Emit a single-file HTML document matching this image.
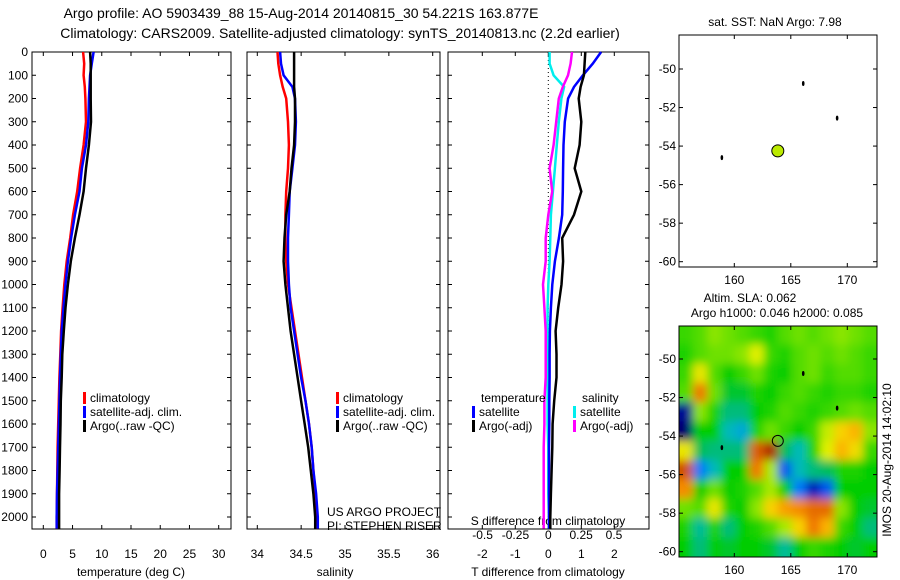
<!DOCTYPE html>
<html><head><meta charset="utf-8">
<style>
body{margin:0;background:#fff;}
svg{display:block;font-family:"Liberation Sans",sans-serif;}
text{fill:#000;}
</style></head>
<body>
<svg id="fig" width="900" height="580" viewBox="0 0 900 580">
<defs>
<clipPath id="mapclip"><rect x="679" y="326" width="198" height="231"/></clipPath>
<filter id="blur" x="-10%" y="-10%" width="120%" height="120%"><feGaussianBlur stdDeviation="4.5"/></filter>
</defs>
<text x="301" y="18" font-size="14" text-anchor="middle">Argo profile: AO 5903439_88 15-Aug-2014 20140815_30 54.221S 163.877E</text>
<text x="340" y="38" font-size="14" text-anchor="middle">Climatology: CARS2009. Satellite-adjusted climatology: synTS_20140813.nc (2.2d earlier)</text>
<g id="panels"></g>
<g id="heat" clip-path="url(#mapclip)"><g id="heatcells" filter="url(#blur)"></g></g>
<g id="maps"></g>
</svg>
<script>
// ---- profile data ----
const depths = [0,50,100,150,200,300,400,500,600,700,800,900,1000,1100,1200,1300,1400,1500,1600,1700,1800,1900,2000,2050];
const tempClim = [6.8,7.0,6.9,7.1,7.2,7.3,6.9,6.3,5.8,5.1,4.6,4.0,3.6,3.3,3.05,2.9,2.75,2.65,2.55,2.45,2.4,2.35,2.3,2.3];
const tempSat = [8.6,8.3,8.0,7.9,7.8,7.7,7.3,6.6,6.2,5.4,4.75,4.2,3.8,3.45,3.15,3.0,2.85,2.75,2.65,2.55,2.45,2.35,2.3,2.3];
const tempArgo = [8.0,8.1,8.1,8.1,8.1,8.15,7.8,7.3,6.9,6.2,5.4,4.7,4.2,3.8,3.5,3.25,3.15,3.0,2.95,2.86,2.78,2.7,2.7,2.7];
const salClim = [34.23,34.24,34.26,34.29,34.33,34.35,34.36,34.35,34.33,34.32,34.32,34.33,34.35,34.39,34.43,34.47,34.51,34.55,34.59,34.62,34.64,34.66,34.68,34.69];
const salSat = [34.26,34.27,34.30,34.40,34.43,34.44,34.43,34.40,34.37,34.36,34.35,34.35,34.36,34.38,34.42,34.46,34.50,34.55,34.59,34.62,34.64,34.67,34.69,34.69];
const salArgo = [34.42,34.42,34.42,34.42,34.43,34.43,34.42,34.39,34.37,34.33,34.31,34.30,34.32,34.35,34.38,34.42,34.46,34.50,34.54,34.58,34.61,34.64,34.66,34.66];
const dTSat = [1.6,1.35,1.05,0.78,0.6,0.5,0.46,0.45,0.44,0.42,0.32,0.2,0.12,0.08,0.05,0.04,0.04,0.03,0.03,0.02,0.02,0.02,0.02,0.02];
const dTArgo = [1.12,1.1,1.08,0.98,0.92,1.0,0.95,0.8,1.0,0.78,0.42,0.45,0.4,0.3,0.22,0.25,0.25,0.18,0.13,0.12,0.1,0.08,0.06,0.06];
const dSSat = [0.01,0.01,0.04,0.12,0.10,0.08,0.065,0.05,0.035,0.02,0.015,0.01,0.0,-0.005,-0.005,-0.005,-0.005,-0.005,-0.005,0.0,0.0,0.0,0.005,0.005];
const dSArgo = [0.18,0.17,0.15,0.11,0.08,0.06,0.04,0.01,0.03,0.0,-0.02,-0.02,-0.04,-0.03,-0.02,-0.02,-0.02,-0.03,-0.03,-0.035,-0.035,-0.035,-0.035,-0.035];
const depthTicks = [0,100,200,300,400,500,600,700,800,900,1000,1100,1200,1300,1400,1500,1600,1700,1800,1900,2000];
const tempTicks = [0,5,10,15,20,25,30];
const salTicks = [34,34.5,35,35.5,36];
const dTTicks = [-2,-1,0,1,2];
const dSTicks = [-0.5,-0.25,0,0.25,0.5];
const dSTickLabels = ["-0.5","-0.25","0","0.25","0.5"];
// ---- map data ----
const floatLon = 163.85, floatLat = -54.25;
const islandLon = [166.1,169.1,158.9];
const islandLat = [-50.75,-52.55,-54.6];
const latTicks = [-50,-52,-54,-56,-58,-60];
const lonTicks = [160,165,170];
const slaLon0 = 155.1, slaDLon = 1.25, slaLat0 = -48.25, slaDLat = 1;
const slaGrid = [
[0.2,0.3,0.5,0.4,0.3,0.2,0.1,0.3,0.4,0.3,0.4,0.5,0.4,0.3],
[0.1,0.3,0.4,0.4,0.5,0.8,0.2,0.1,0.3,0.4,0.3,0.4,0.3,0.2],
[0.2,0.9,0.3,0.0,0.2,0.4,0.1,0.0,0.3,0.4,0.2,0.3,0.3,0.2],
[0.3,1.6,0.4,-0.1,-0.1,0.1,0.0,0.2,0.3,0.2,0.1,0.2,0.2,0.1],
[-2.0,0.5,0.1,-0.3,-0.3,0.0,0.1,0.3,0.2,0.1,0.2,0.3,0.4,0.3],
[-2.3,0.0,0.0,-0.5,-0.7,0.1,0.4,0.2,0.0,0.2,0.7,1.1,1.3,0.5],
[0.9,-0.2,-0.3,-0.3,-0.3,1.8,2.2,-0.2,-0.5,0.1,0.8,1.3,1.0,0.2],
[1.9,-1.1,-0.5,0.0,0.0,1.6,0.6,-1.3,-0.5,-0.3,-0.2,0.1,0.1,0.0],
[1.5,0.0,0.4,0.0,0.1,0.3,0.6,0.0,-1.1,-1.8,-1.3,0.0,0.0,0.0],
[0.4,0.3,0.9,0.1,0.0,0.5,1.1,1.4,1.5,1.7,1.7,0.5,0.0,-0.1],
[0.1,-0.4,0.1,-0.3,0.0,0.1,0.3,0.6,1.1,1.6,1.3,0.2,0.0,-0.3],
[0.0,-0.3,0.0,-0.1,0.0,0.0,-0.1,-0.4,0.0,0.2,0.1,0.0,-0.1,0.0]];

const NS='http://www.w3.org/2000/svg';
function mk(parent,tag,attrs,txt){const e=document.createElementNS(NS,tag);for(const k in attrs)e.setAttribute(k,attrs[k]);if(txt!==undefined)e.textContent=txt;parent.appendChild(e);return e;}
const panels=document.getElementById('panels');
const Y0=52,Y1=529;
const yD=d=>Y0+d*0.2325;
function lin(d0,d1,r0,r1){return v=>r0+(v-d0)*(r1-r0)/(d1-d0);}

function frame(x0,x1,name){
  const r=mk(panels,'rect',{x:x0,y:Y0,width:x1-x0,height:Y1-Y0,fill:'none',stroke:'#000','stroke-width':1});
  
  
  depthTicks.forEach(d=>{mk(panels,'line',{x1:x0,x2:x0+4,y1:yD(d),y2:yD(d),stroke:'#000'});mk(panels,'line',{x1:x1,x2:x1-4,y1:yD(d),y2:yD(d),stroke:'#000'});});
}
function xticks(sx,ticks,labels,x0,x1,y,name){
  ticks.forEach((t,i)=>{const x=sx(t);
    mk(panels,'line',{x1:x,x2:x,y1:Y1,y2:Y1-4,stroke:'#000'});mk(panels,'line',{x1:x,x2:x,y1:Y0,y2:Y0+4,stroke:'#000'});
    const tx=mk(panels,'text',{x:x,y:y,'font-size':12,'text-anchor':'middle'},labels?labels[i]:String(t));
    
    
  });
}
function series(sx,vals,color,name){
  let p='';vals.forEach((v,i)=>{p+=(i?'L':'M')+sx(v).toFixed(1)+','+yD(depths[i]).toFixed(1);});
  const e=mk(panels,'path',{d:p,fill:'none',stroke:color,'stroke-width':2.5,'stroke-linejoin':'miter'});
  
  
}
function legendEntry(x,y,color,label,name){
  const g=mk(panels,'g',{});
  
  
  mk(g,'rect',{x:x,y:y-10,width:3,height:12,fill:color});
  mk(g,'text',{x:x+7,y:y,'font-size':12},label);
}
function ylabel(t,name){const e=mk(panels,'text',{x:t.x,y:t.y,'font-size':12,'text-anchor':t.a||'middle'},t.s);}

// panel 1 temperature
const sT=lin(0,30,43.3,218.7);
frame(32,231,'temperature-axes');
depthTicks.forEach(d=>{const e=mk(panels,'text',{x:28,y:yD(d)+4,'font-size':12,'text-anchor':'end'},String(d));});
xticks(sT,tempTicks,null,32,231,558,'temperature');
series(sT,tempClim,'#f00','temp-climatology-line');
series(sT,tempSat,'#00f','temp-satellite-line');
series(sT,tempArgo,'#000','temp-argo-line');
legendEntry(83,402,'#f00','climatology','legend-climatology');
legendEntry(83,416,'#00f','satellite-adj. clim.','legend-satellite');
legendEntry(83,430,'#000','Argo(..raw -QC)','legend-argo');
ylabel({x:131,y:576,s:'temperature (deg C)'},'x-axis-title-temperature');

// panel 2 salinity
const sS=lin(34,36,257.3,432.7);
frame(247,440,'salinity-axes');
xticks(sS,salTicks,null,247,440,558,'salinity');
series(sS,salClim,'#f00','sal-climatology-line');
series(sS,salSat,'#00f','sal-satellite-line');
series(sS,salArgo,'#000','sal-argo-line');
legendEntry(336,402,'#f00','climatology','legend-climatology-2');
legendEntry(336,416,'#00f','satellite-adj. clim.','legend-satellite-2');
legendEntry(336,430,'#000','Argo(..raw -QC)','legend-argo-2');
ylabel({x:327,y:516,s:'US ARGO PROJECT',a:'start'},'project-label');
ylabel({x:327,y:530,s:'PI: STEPHEN RISER',a:'start'},'pi-label');
ylabel({x:335,y:576,s:'salinity'},'x-axis-title-salinity');

// panel 3 differences
const sdT=lin(0,2,548.3,614.3);
const sdS=lin(0,0.5,548.3,614);
frame(448,649,'difference-axes');
mk(panels,'line',{x1:sdT(0),x2:sdT(0),y1:Y0,y2:Y1,stroke:'#000','stroke-dasharray':'1,3'});
xticks(sdT,dTTicks,null,448,649,558,'t-difference');
dSTicks.forEach((t,i)=>{const e=mk(panels,'text',{x:sdS(t),y:539,'font-size':12,'text-anchor':'middle'},dSTickLabels[i]);});
ylabel({x:548,y:525,s:'S difference from climatology'},'s-difference-title');
series(sdS,dSSat,'#0ee','s-diff-satellite-line');
series(sdS,dSArgo,'#f0f','s-diff-argo-line');
series(sdT,dTSat,'#00f','t-diff-satellite-line');
series(sdT,dTArgo,'#000','t-diff-argo-line');
ylabel({x:481,y:402,s:'temperature',a:'start'},'legend-title-temperature');
ylabel({x:582,y:402,s:'salinity',a:'start'},'legend-title-salinity');
legendEntry(472,416,'#00f','satellite','legend-t-satellite');
legendEntry(472,430,'#000','Argo(-adj)','legend-t-argo');
legendEntry(573,416,'#0ee','satellite','legend-s-satellite');
legendEntry(573,430,'#f0f','Argo(-adj)','legend-s-argo');
ylabel({x:548,y:576,s:'T difference from climatology'},'x-axis-title-t-difference');

// maps
const maps=document.getElementById('maps');
const sLon=lin(160,170,734.3,847.3);
function drawMap(top,bottom,latA,name,withFill){
  const sLat=lin(-50,-60,latA,latA+192.7);
  const r=mk(maps,'rect',{x:679,y:top,width:198,height:bottom-top,fill:'none',stroke:'#000'});
  
  
  latTicks.forEach(t=>{const y=sLat(t);mk(maps,'line',{x1:679,x2:683,y1:y,y2:y,stroke:'#000'});mk(maps,'line',{x1:877,x2:873,y1:y,y2:y,stroke:'#000'});
    const e=mk(maps,'text',{x:676,y:y+4,'font-size':12,'text-anchor':'end'},String(t));});
  lonTicks.forEach(t=>{const x=sLon(t);mk(maps,'line',{x1:x,x2:x,y1:bottom,y2:bottom-4,stroke:'#000'});mk(maps,'line',{x1:x,x2:x,y1:top,y2:top+4,stroke:'#000'});
    const e=mk(maps,'text',{x:x,y:bottom+17,'font-size':12,'text-anchor':'middle'},String(t));});
  islandLon.forEach((lo,i)=>{const e=mk(maps,'ellipse',{cx:sLon(lo),cy:sLat(islandLat[i]),rx:1.3,ry:2.5,fill:'#000'});});
  const c=mk(maps,'circle',{cx:sLon(floatLon),cy:sLat(floatLat),r:withFill?6:5.5,fill:withFill?'#bbea00':'none',stroke:'#000','stroke-width':1});
  
  
  return sLat;
}
drawMap(35,267,69,'sst-map',true);
const sLat2=lin(-50,-60,359,551.7);
// heatmap
const heat=document.getElementById('heatcells');
function slaColor(v){
  const stops=[[-2.2,[0,0,110]],[-1.6,[0,40,220]],[-1,[0,140,255]],[-0.5,[0,185,185]],[-0.2,[0,190,90]],[0,[0,205,0]],[0.4,[110,225,0]],[0.8,[225,240,0]],[1.2,[255,200,0]],[1.6,[240,120,0]],[2.2,[175,45,0]]];
  if(v<=stops[0][0])return 'rgb('+stops[0][1]+')';
  for(let i=1;i<stops.length;i++){if(v<=stops[i][0]){const a=stops[i-1],b=stops[i],f=(v-a[0])/(b[0]-a[0]);return 'rgb('+a[1].map((c,k)=>Math.round(c+(b[1][k]-c)*f)).join(',')+')';}}
  return 'rgb('+stops[stops.length-1][1]+')';
}
mk(heat,'rect',{x:660,y:310,width:240,height:270,fill:'#10c010'});
slaGrid.forEach((row,r)=>row.forEach((v,c)=>{
  const lo=slaLon0+c*slaDLon, la=slaLat0-r*slaDLat;
  const x0=sLon(lo),x1=sLon(lo+slaDLon),y0=sLat2(la),y1=sLat2(la-slaDLat);
  const pad=(c===0?-15:0), padR=(c===row.length-1?15:0), padT=(r===0?-15:0), padB=(r===slaGrid.length-1?15:0);
  const e=mk(heat,'rect',{x:x0+pad,y:y0+padT,width:x1-x0-pad+padR+0.5,height:y1-y0-padT+padB+0.5,fill:slaColor(v)});
  
  
}));
drawMap(326,557,359,'sla-map',false);
const t1=mk(maps,'text',{x:775,y:26,'font-size':12,'text-anchor':'middle'},'sat. SST: NaN Argo: 7.98');

const t2=mk(maps,'text',{x:750,y:302,'font-size':12,'text-anchor':'middle'},'Altim. SLA: 0.062');

const t3=mk(maps,'text',{x:777,y:317,'font-size':12,'text-anchor':'middle'},'Argo h1000: 0.046 h2000: 0.085');

const t4=mk(maps,'text',{x:0,y:0,'font-size':12,'text-anchor':'middle',transform:'translate(891,460) rotate(-90)'},'IMOS 20-Aug-2014 14:02:10');

</script>
</body></html>
